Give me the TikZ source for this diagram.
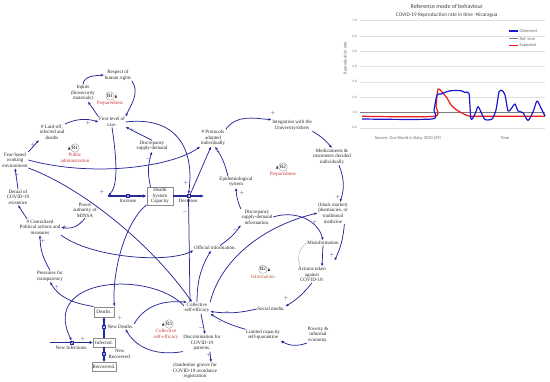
\documentclass[tikz,border=0pt]{standalone}
\usepackage{fontspec}
\setmainfont{Liberation Serif}
\newfontfamily\chartfont{Carlito}
\usetikzlibrary{arrows.meta, positioning}

\definecolor{cldblue}{RGB}{40,40,150}
\definecolor{loopred}{RGB}{200,55,55}
\definecolor{infobrown}{RGB}{175,95,60}
\definecolor{obsblue}{RGB}{25,25,205}
\definecolor{expred}{RGB}{235,25,25}
\definecolor{refgray}{RGB}{125,125,125}

\newcommand{\cldsize}{\fontsize{5}{5.6}\selectfont}
\newcommand{\polsize}{\fontsize{2.6}{2.6}\selectfont}

\begin{document}
\begin{tikzpicture}[x=1pt, y=1pt,
  var/.style={align=center, font=\cldsize, text=black!85, inner sep=0.5pt},
  stockbox/.style={var, draw=black!45, line width=0.3pt, inner sep=0.8pt},
  link/.style={cldblue, line width=0.75pt, -{Latex[length=3.2pt,width=2.6pt]}},
  flowpipe/.style={cldblue, line width=1.3pt, -{Latex[length=3.4pt,width=3.4pt]}},
  valve/.style={fill=white, draw=cldblue, line width=0.4pt, minimum size=3.2pt, inner sep=0pt,
    path picture={\draw[cldblue, line width=0.3pt] (path picture bounding box.north west) -- (path picture bounding box.south east)
      (path picture bounding box.north east) -- (path picture bounding box.south west);}},
  loopsign/.style={circle, draw=black!50, line width=0.3pt, inner sep=0.4pt, minimum size=8.5pt, font=\cldsize},
  loopname/.style={var, text=loopred},
  pol/.style={font=\polsize, text=cldblue, inner sep=0pt},
  chartlabel/.style={font=\chartfont\fontsize{4.4}{5}\selectfont, text=black!60, inner sep=0pt},
  chartline/.style={line width=1.2pt, line join=round}]

\useasboundingbox (0,0) rectangle (550,382);

% ---- reference mode chart
\foreach \v in {0,...,7}
  \draw[black!12, line width=0.3pt] (360,{254.3+15.3*\v}) -- (545,{254.3+15.3*\v});
\foreach \v in {0,...,7}
  \node[chartlabel, font=\chartfont\fontsize{3.4}{4}\selectfont, anchor=east] (tick\v) at (357,{254.3+15.3*\v}) {\v.0};
\node[chartlabel, rotate=90] (ylabel) at (345.5,324) {Reproduction rate};
\node[chartlabel, font=\chartfont\fontsize{6}{7}\selectfont, text=black!75] (title) at (446.7,375.3) {Reference mode of behaviour};
\node[chartlabel, font=\chartfont\fontsize{5.3}{6}\selectfont, text=black!75] (subtitle) at (446.7,367) {COVID-19 Reproduction rate in time -Nicaragua};
\node[chartlabel] (source) at (408,244) {Source: Our World in Data, 2020 (29)};
\node[chartlabel] (timelabel) at (505,244) {Time};

\draw[chartline, refgray] (360,269.3) -- (545,269.3);
\draw[chartline, expred] plot[smooth, tension=0.4] coordinates {(362,265.7) (434,265.7) (436,276) (438,292.7)
  (442,290) (447,284) (451,277) (456,272.5) (461,269.5) (468,266.2) (476,265.7) (545,265.7)};
\draw[chartline, obsblue] plot[smooth, tension=0.4] coordinates {(362,263) (432,263) (434,272) (437,287)
  (441,288) (446,290) (451,291.3) (461,291.3) (465,289.5) (469,288.5) (471,263) (475,268) (478,275.3)
  (481,270) (485,262.5) (492,263) (496,272) (499,290) (502,291.5) (505,287) (508,271) (511,273)
  (515,278) (518,271) (523,269.3) (528,261.5) (533,270) (537,281) (541,274) (545,266)};

\draw[chartline, obsblue] (509,351) -- (518,351);
\draw[chartline, refgray] (509,343.3) -- (518,343.3);
\draw[chartline, expred] (509,336.3) -- (518,336.3);
\node[chartlabel, anchor=west] (legobs) at (519.5,351) {Observed};
\node[chartlabel, anchor=west] (legref) at (519.5,343.3) {Ref. Line};
\node[chartlabel, anchor=west] (legexp) at (519.5,336.3) {Expected};

% ---- causal loop diagram: variables
\node[var] (respect) at (118,307) {Respect of\\human rights};
\node[var] (inputs) at (83,289) {Inputs\\(biosecurity\\materials)};
\node[var] (firstcare) at (112,260) {First level of\\care.};
\node[var] (laidoff) at (52,250) {\# Laid-off,\\infected and\\deaths};
\node[var] (fearbased) at (15,222) {Fear-based\\working\\environment};
\node[var] (discsupply) at (152,236) {Discrepancy\\supply-demand};
\node[var] (protocols) at (213,244) {\# Protocols\\adopted\\individually};
\node[var] (integration) at (292,256.5) {Integration with the\\University/others};
\node[var] (medicaments) at (332,225.3) {Medicaments \&\\treatments decided\\individually};
\node[var] (epidem) at (236,200) {Epidemiological\\system};
\node[var] (blackmarket) at (333,169) {(black market)\\pharmacies, or\\traditional\\medicine};
\node[var] (denial) at (18,185) {Denial of\\COVID-19\\existence};
\node[var] (minsa) at (85,172) {Power\\authority of\\MINSA};
\node[var] (centralized) at (40,155) {\# Centralized\\Political actions and\\measures};
\node[var] (pressures) at (50,106) {Pressures for\\transparency};
\node[var] (discinfo) at (257,165) {Discrepancy\\supply-demand\\information.};
\node[var] (official) at (215,134) {Official information.};
\node[var] (misinfo) at (323,139) {Misinformation};
\node[var] (actions) at (312,107.3) {Actions taken\\against\\COVID-19.};
\node[var] (socialmedia) at (271,73) {Social media.};
\node[var] (collective) at (197,74) {Collective\\self-efficacy};
\node[var] (limited) at (263,47) {Limited capacity\\self-quarantine};
\node[var] (poverty) at (318,47.5) {Poverty \&\\informal\\economy.};
\node[var] (discrim) at (202,39) {Discrimination for\\COVID-19\\patients.};
\node[var] (graves) at (195,11) {clandestine graves for\\COVID-19 avoidance\\registration};

% stocks
\node[stockbox, minimum width=26.6pt, minimum height=15.7pt] (hsc) at (160,186) {Health\\System\\Capacity};
\node[stockbox, minimum width=20.6pt, minimum height=10pt] (deaths) at (104,70.3) {Deaths.};
\node[stockbox, minimum width=21.7pt, minimum height=9.6pt] (infected) at (104,39.5) {Infected.};
\node[stockbox, minimum width=24.3pt, minimum height=8.7pt] (recovered) at (104,15.3) {Recovered.};

% flows
\coordinate (incsrc) at (108,186);
\coordinate (decsink) at (204,186);
\coordinate (nisrc) at (50,39.5);
\draw[flowpipe] (incsrc) -- (hsc.west);
\draw[flowpipe] (hsc.east) -- (decsink);
\draw[flowpipe] (nisrc) -- (infected.west);
\draw[flowpipe] (infected.north) -- (deaths.south);
\draw[flowpipe] (infected.south) -- (recovered.north);
\node[valve] (incvalve) at (128,186) {};
\node[valve] (decvalve) at (188.5,186) {};
\node[valve] (nivalve) at (71.7,39.5) {};
\node[valve] (ndvalve) at (104,55.5) {};
\node[valve] (nrvalve) at (104,28) {};
\node[var, below=0.6pt of incvalve] (increase) {Increase};
\node[var, below=0.6pt of decvalve] (decrease) {Decrease.};
\node[var, below=0.6pt of nivalve] (newinf) {New Infections.};
\node[var, right=1pt of ndvalve] (newdeaths) {New Deaths.};
\node[var, right=2pt of nrvalve] (newrec) {New\\Recovered.};

% loops
\node[loopsign] (loopB1) at (110,286) {B1};
\node[loopname, below=0.3pt of loopB1] (nameB1) {Preparedness};
\node[loopsign] (loopR1) at (75,234) {R1};
\node[loopname, below=0.3pt of loopR1] (nameR1) {Public\\administration};
\node[loopsign] (loopR2) at (283,215) {R2};
\node[loopname, below=0.3pt of loopR2] (nameR2) {Preparedness};
\node[loopsign] (loopB2) at (263,112.7) {B2};
\node[loopname, text=infobrown, below=0.3pt of loopB2] (nameB2) {Information};
\node[loopsign] (loopR3) at (169,58) {R3};
\node[loopname, below=0.3pt of loopR3, xshift=-3pt] (nameR3) {Collective\\self-efficacy};
\fill[black] (loopB1.east) ++(0.6,-1.6) -- ++(1.8,0) -- ++(-0.9,3.2) -- cycle;
\fill[black] (loopB2.east) ++(0.6,-1.6) -- ++(1.8,0) -- ++(-0.9,3.2) -- cycle;
\fill[black] (loopR1.west) ++(-0.6,-1.6) -- ++(-1.8,0) -- ++(0.9,3.2) -- cycle;
\fill[black] (loopR2.west) ++(-0.6,-1.6) -- ++(-1.8,0) -- ++(0.9,3.2) -- cycle;
\fill[black] (loopR3.west) ++(-0.6,-1.6) -- ++(-1.8,0) -- ++(0.9,3.2) -- cycle;

% ---- causal links
\draw[link] (inputs.north) to[out=85,in=185] (respect.west);
\draw[link] (respect.south east) to[out=-55,in=65] (firstcare.north east);
\draw[link] (firstcare.north west) -- (inputs.-60);
\draw[link] (laidoff.north east) to[bend left=20] (firstcare.west);
\draw[link] (fearbased.north east) -- (laidoff.south west);
\draw[link] (discsupply.north) -- (firstcare.-20);
\draw[link] (firstcare.east) .. controls (175,266) and (195,235) .. (decvalve.north);
\draw[link] (firstcare.south) .. controls (118,215) and (117,195) .. (incsrc);
\draw[link] (fearbased.east) .. controls (90,205) and (170,214) .. (protocols.south west);
\draw[link] (fearbased.south east) .. controls (80,195) and (150,140) .. ([xshift=-5pt]collective.north);
\draw[link] (denial.north) -- (fearbased.south);
\draw[link] ([xshift=8pt]centralized.north west) -- (denial.south);
\draw[link] (minsa.south) to[bend left=35] (centralized.east);
\draw[link] (pressures.north) to[bend left=15] (centralized.south);
\draw[link] (centralized.south east) .. controls (90,125) and (165,118) .. (official.south west);
\draw[link] ([xshift=4pt]hsc.north west) to[bend left=15] (discsupply.south);
\draw[link] (hsc.south west) .. controls (125,160) and (112,110) .. (deaths.north east);
\draw[link] ([xshift=-7pt]collective.north) -- (decvalve.south);
\draw[link] (decvalve.north east) -- ([xshift=-2pt]protocols.south);
\draw[link] ([xshift=-8pt]epidem.north) to[bend right=10] ([xshift=2pt]protocols.south);
\draw[link] (protocols.north east) to[out=55,in=175] (integration.north west);
\draw[link] (integration.south east) to[bend left=10] (medicaments.north);
\draw[link] ([xshift=7pt]medicaments.south) to[bend left=20] ([xshift=7pt]blackmarket.north);
\draw[link] ([xshift=-4pt]blackmarket.south east) to[bend left=10] ([shift={(8pt,6pt)}]actions.north east);
\draw[link] (discinfo.east) .. controls (295,172) and (318,162) .. (misinfo.north);
\draw[link] (misinfo.south) -- ([xshift=10pt]actions.north);
\draw[black!40, line width=0.3pt] (misinfo.west) to[bend right=40] ([xshift=3pt]actions.north west);
\draw[link] (actions.south) to[bend left=10] (socialmedia.north east);
\draw[link] (socialmedia.west) to[bend left=10] (collective.-15);
\draw[link] (limited.north west) to[bend left=8] (collective.south east);
\draw[link] (poverty.south west) to[bend left=25] (limited.south east);
\draw[link] ([xshift=4pt]collective.south) -- ([xshift=3pt]discrim.north);
\draw[link] ([xshift=8pt]discrim.south) -- ([xshift=16pt]graves.north);
\draw[link] (discrim.south west) to[out=190,in=-60] ([xshift=5pt]newdeaths.south);
\draw[link] (newdeaths.north east) to[out=60,in=175] (collective.150);
\draw[link] (deaths.north west) to[out=170,in=-60] (pressures.south);
\draw[link] (collective.170) .. controls (150,112) and (40,105) .. (nivalve.north);
\draw[link] (collective.north) to[bend left=15] ([xshift=-4pt]official.south);
\draw[link] ([xshift=5pt]official.north) to[bend right=10] (discinfo.south west);
\draw[link] (discinfo.north west) to[bend left=10] (epidem.south);
\draw[link] (collective.north east) .. controls (220,120) and (260,155) .. (blackmarket.west);

% polarities
\foreach \px/\py/\s [count=\i] in {88/259/+, 33/237/+, 132/252/+, 17/207/+, 148/223/-, 273/269/+,
  218/230/-, 338/185/+, 102/190/+, 65/155/+, 43/141/+, 57/95/+, 186/199/+, 185/170/-,
  235/152/-, 242/189/+, 332/127/+, 286/84/+, 227/70/-, 220/60/-, 283/40/+, 201/54/-,
  209/27/+, 120/64/+, 83/43/+, 315/160/+}
  \node[pol] (pol\i) at (\px,\py) {$\s$};
\end{tikzpicture}
\end{document}
